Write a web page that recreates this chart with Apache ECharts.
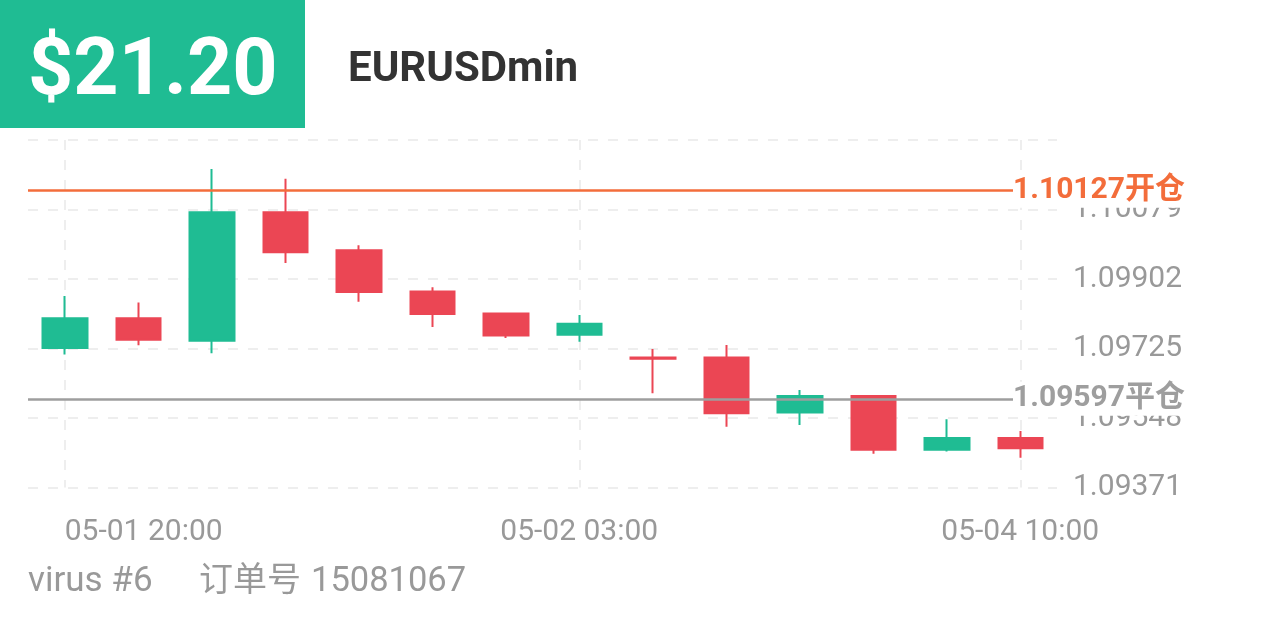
<!DOCTYPE html>
<html>
<head>
<meta charset="utf-8">
<script src="https://cdn.jsdelivr.net/npm/echarts@6/dist/echarts.min.js"></script>
<style>
html,body{margin:0;padding:0;background:#fff;}
#chart{width:1266px;height:633px;}
</style>
</head>
<body>
<div id="chart"></div>
<script>
// ---- data ----
const categories = ['05-01 20:00','05-01 21:00','05-01 22:00','05-01 23:00','05-02 00:00','05-02 01:00','05-02 02:00','05-02 03:00','05-02 04:00','05-02 05:00','05-02 06:00','05-02 07:00','05-02 08:00','05-04 10:00'];
const opens  = [1.09726,1.09802,1.09745,1.10072,1.09975,1.09870,1.09814,1.09760,1.09702,1.09702,1.09562,1.09604,1.09467,1.09497];
const closes = [1.09802,1.09747,1.10072,1.09970,1.09869,1.09813,1.09758,1.09788,1.09699,1.09560,1.09604,1.09467,1.09497,1.09471];
const lows   = [1.09710,1.09733,1.09713,1.09943,1.09844,1.09780,1.09752,1.09742,1.09611,1.09526,1.09530,1.09457,1.09463,1.09447];
const highs  = [1.09859,1.09842,1.10182,1.10157,1.09988,1.09881,1.09814,1.09810,1.09724,1.09734,1.09619,1.09604,1.09545,1.09515];
const xTickLabels = ['05-01 20:00','05-02 03:00','05-04 10:00'];
const yTickLabels = [1.09371,1.09548,1.09725,1.09902,1.10079,1.10256];
const markValues = [1.10127,1.09597];
const markNames = ['开仓','平仓'];
const profitText = '$21.20';
const symbolText = 'EURUSDmin';
const userText = 'virus #6';
const orderLabel = '订单号';
const orderNo = '15081067';

// ---- style ----
const FONT = 'Roboto, "Noto Sans CJK SC", sans-serif';
const GREEN = '#1FBC93';
const RED = '#EB4654';
const ORANGE = '#F36D3B';
const GRAY_LINE = '#9E9E9E';
const TEXT_GRAY = '#999999';
const GRID_COLOR = '#EEEEEE';

const base = yTickLabels[0];
const step = yTickLabels[1] - yTickLabels[0];
const yMax = step * (yTickLabels.length - 1);

const candleData = categories.map((c, i) => [opens[i] - base, closes[i] - base, lows[i] - base, highs[i] - base]);
const showIdx = (i) => xTickLabels.indexOf(categories[i]) >= 0;
const xAxisData = categories.map((c, i) => i === 0 ? {value: c, textStyle: {align: 'left'}} : c);

const markColors = [ORANGE, GRAY_LINE];
const markData = markValues.map((v, i) => ({
  yAxis: v - base,
  lineStyle: {color: markColors[i], width: 2.5, type: 'solid'},
  label: {
    show: true,
    position: 'end',
    distance: 5,
    offset: [-49, 0],
    formatter: v.toFixed(5) + markNames[i],
    color: markColors[i],
    fontSize: 30,
    fontWeight: 'bold',
    fontFamily: FONT,
    backgroundColor: '#ffffff',
    padding: [2, 0, 2, 0]
  }
}));

const chart = echarts.init(document.getElementById('chart'), null, {renderer: 'canvas'});
chart.setOption({
  animation: false,
  backgroundColor: '#ffffff',
  grid: {left: 28, right: 209, top: 140, bottom: 145.5, containLabel: false, outerBoundsMode: 'none'},
  xAxis: {
    type: 'category',
    data: xAxisData,
    boundaryGap: true,
    axisLine: {show: false},
    axisTick: {show: false},
    axisLabel: {
      interval: (i) => showIdx(i),
      color: TEXT_GRAY,
      fontSize: 30,
      fontFamily: FONT,
      margin: 30
    },
    splitLine: {
      show: true,
      interval: (i) => showIdx(i),
      alignWithLabel: true,
      lineStyle: {color: GRID_COLOR, width: 2, type: [10, 10]}
    }
  },
  yAxis: {
    type: 'value',
    position: 'right',
    min: 0,
    max: yMax,
    interval: step,
    axisLine: {show: false},
    axisTick: {show: false},
    axisLabel: {
      formatter: (v) => (base + v).toFixed(5),
      showMaxLabel: false,
      color: TEXT_GRAY,
      fontSize: 30,
      fontFamily: FONT,
      margin: 16
    },
    splitLine: {
      show: true,
      lineStyle: {color: GRID_COLOR, width: 2, type: [10, 10]}
    }
  },
  series: [{
    type: 'candlestick',
    data: candleData,
    barWidth: 45,
    itemStyle: {
      color: GREEN,
      color0: RED,
      borderColor: GREEN,
      borderColor0: RED,
      borderWidth: 2
    },
    markLine: {
      silent: true,
      precision: 10,
      symbol: ['none', 'none'],
      lineStyle: {width: 2.5, type: 'solid'},
      data: markData
    }
  }],
  graphic: [
    {type: 'rect', left: 0, top: 0, shape: {width: 305, height: 128}, style: {fill: GREEN}, z: 10},
    {type: 'text', x: 28, y: 74, z: 11, style: {text: profitText, fill: '#ffffff', fontSize: 79, fontWeight: 'bold', fontFamily: FONT, verticalAlign: 'middle'}},
    {type: 'text', x: 348, y: 70, z: 11, style: {text: symbolText, fill: '#333333', fontSize: 42, fontWeight: 'bold', fontFamily: FONT, verticalAlign: 'middle'}},
    {type: 'text', x: 28, y: 582, z: 11, style: {text: userText, fill: TEXT_GRAY, fontSize: 35, fontFamily: FONT, verticalAlign: 'middle'}},
    {type: 'text', x: 199, y: 582, z: 11, style: {text: orderLabel, fill: TEXT_GRAY, fontSize: 34, fontFamily: FONT, verticalAlign: 'middle'}},
    {type: 'text', x: 311, y: 582, z: 11, style: {text: orderNo, fill: TEXT_GRAY, fontSize: 34.5, fontFamily: FONT, verticalAlign: 'middle'}}
  ]
});
</script>
</body>
</html>
